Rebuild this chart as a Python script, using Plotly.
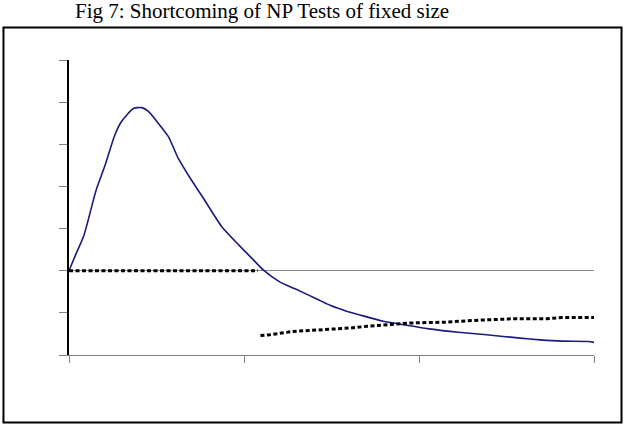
import plotly.graph_objects as go

# Blue curve (solid)
curve_x = [0, 1.7, 4.3, 7.7, 10.3, 13.1, 15, 18.4, 20.8, 22.7, 25.5, 28.4, 31.2, 34.6,
           38.4, 43.6, 48.4, 52.2, 55.5, 60.3, 64.6, 70.8, 74.6, 79.3, 83.1, 89.8,
           95.5, 103, 111.2, 119.3, 128.9, 134.6, 140.8, 148.4, 150]
curve_y = [0, 0.34, 0.85, 1.90, 2.50, 3.22, 3.54, 3.85, 3.87, 3.78, 3.5, 3.18, 2.67, 2.2,
           1.72, 1.05, 0.62, 0.30, 0.02, -0.27, -0.43, -0.67, -0.82, -0.96, -1.05, -1.20,
           -1.28, -1.38, -1.46, -1.52, -1.60, -1.64, -1.67, -1.68, -1.70]

# Dotted line, first part (at zero)
dot1_x = [0, 54]
dot1_y = [0, 0]

# Dotted line, second part
dot2_x = [54.7, 57.4, 64, 73.7, 80.3, 85.1, 90.9, 97.4, 108, 115.4, 126.9, 136.6, 140.9, 150]
dot2_y = [-1.54, -1.52, -1.44, -1.40, -1.36, -1.32, -1.28, -1.24, -1.22, -1.18, -1.14, -1.14, -1.11, -1.11]

title_text = "Fig 7: Shortcoming of NP Tests of fixed size"

fig = go.Figure()
fig.add_trace(go.Scatter(x=curve_x, y=curve_y, mode="lines",
                         line=dict(color="#1a1a80", width=1.6, shape="spline", smoothing=0.6),
                         showlegend=False))
fig.add_trace(go.Scatter(x=dot1_x, y=dot1_y, mode="lines",
                         line=dict(color="black", width=3, dash="4px,2.5px"), showlegend=False))
fig.add_trace(go.Scatter(x=dot2_x, y=dot2_y, mode="lines",
                         line=dict(color="black", width=3, dash="4px,2.5px"), showlegend=False))

fig.update_layout(
    width=626, height=432,
    margin=dict(l=69, r=32, t=60, b=77),
    paper_bgcolor="white", plot_bgcolor="white",
    font=dict(family="Liberation Serif", color="black"),
    xaxis=dict(range=[0, 150], tickvals=[0, 50, 100, 150], showticklabels=False,
               ticks="outside", ticklen=7, tickcolor="#808080", tickwidth=1,
               showline=True, linecolor="#808080", linewidth=1,
               showgrid=False, zeroline=False),
    yaxis=dict(range=[-2, 5], tickvals=[-2, -1, 0, 1, 2, 3, 4, 5], showticklabels=False,
               ticks="outside", ticklen=8, tickcolor="#808080", tickwidth=1,
               showline=True, linecolor="black", linewidth=1.5,
               showgrid=False, zeroline=True, zerolinecolor="#8c8c8c", zerolinewidth=1),
    shapes=[dict(type="rect", xref="paper", yref="paper",
                 x0=-0.1248, x1=1.0524, y0=-0.2288, y1=1.1102,
                 line=dict(color="black", width=2), layer="below")],
    annotations=[dict(text=title_text, xref="paper", yref="paper",
                      x=0.3676, y=1.1661, xanchor="center", yanchor="middle",
                      showarrow=False, font=dict(size=21, family="Liberation Serif", color="black"))],
)

fig.write_html("out.html")
